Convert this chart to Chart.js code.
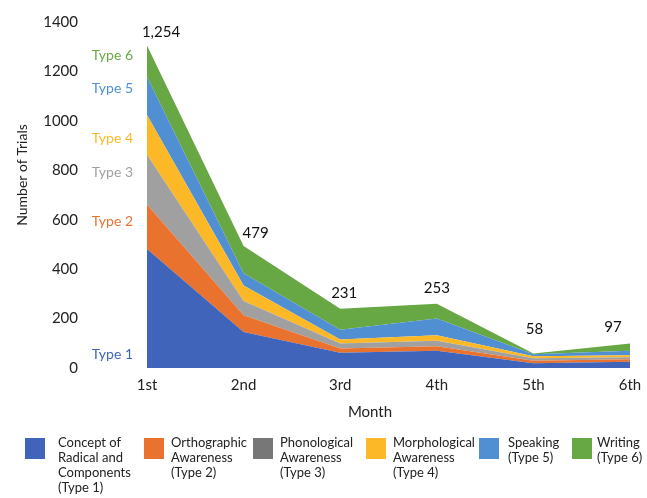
<!DOCTYPE html>
<html>
<head>
<meta charset="utf-8">
<script src="https://cdn.jsdelivr.net/npm/chart.js@4.4.0/dist/chart.umd.min.js"></script>
<style>
  body { margin: 0; background: #fff; font-family: Lato, "Open Sans", sans-serif; }
  #wrap { position: relative; width: 647px; height: 498px; }
  #chart { position: absolute; left: 0; top: 0; }
  .lg-box { position: absolute; top: 438px; width: 20px; height: 21px; }
  .lg-text { position: absolute; top: 435px; font-size: 13px; line-height: 15px; color: #222; }
</style>
</head>
<body>
<div id="wrap">
  <canvas id="chart" width="647" height="498"></canvas>
  <div id="legend"></div>
</div>
<script>
// month categories
const months = ['1st', '2nd', '3rd', '4th', '5th', '6th'];

// trials per type
const type1 = [481, 146, 62, 70, 19, 25];
const type2 = [181, 67, 17, 18, 10, 10];
const type3 = [201, 58, 20, 22, 10, 8];
const type4 = [161, 63, 16, 23, 9, 9];
const type5 = [154, 49, 40, 67, 8, 18];
const type6 = [127, 111, 85, 60, 3, 29];

// total labels printed above each month
const totalLabels = ['1,254', '479', '231', '253', '58', '97'];

// "Type n" labels on the left, at these y values
const typeLabelY = [56, 591, 792, 928, 1129, 1266];

const seriesNames = ['Type 1', 'Type 2', 'Type 3', 'Type 4', 'Type 5', 'Type 6'];
const legendNames = [
    'Concept of<br>Radical and<br>Components<br>(Type 1)',
    'Orthographic<br>Awareness<br>(Type 2)',
    'Phonological<br>Awareness<br>(Type 3)',
    'Morphological<br>Awareness<br>(Type 4)',
    'Speaking<br>(Type 5)',
    'Writing<br>(Type 6)'
];
const colors = ['#3f64b9', '#e9722f', '#a0a0a0', '#fdb827', '#4f8fd2', '#67a844'];
const labelColors = ['#3f64b9', '#e9722f', '#a0a0a0', '#fdb827', '#4f8fd2', '#67a844'];
const legendColors = ['#3f64b9', '#e9722f', '#777777', '#fdb827', '#4f8fd2', '#67a844'];

const allSeries = [type1, type2, type3, type4, type5, type6];

// custom text: type labels, totals, axis titles
const textPlugin = {
    id: 'texts',
    afterDraw(chart) {
        const ctx = chart.ctx;
        const y = chart.scales.y;
        ctx.save();
        ctx.textBaseline = 'middle';

        // type labels
        ctx.font = '14px Lato';
        ctx.textAlign = 'right';
        seriesNames.forEach((name, i) => {
            ctx.fillStyle = labelColors[i];
            ctx.fillText(name, 133, y.getPixelForValue(typeLabelY[i]));
        });

        // totals
        const top = chart.getDatasetMeta(5).data;
        const dx = [14, 12, 4, 0, 1, -17];
        const dy = [13, 13, 16, 16, 24, 16];
        ctx.font = '15px Lato';
        ctx.textAlign = 'center';
        ctx.fillStyle = '#111';
        totalLabels.forEach((t, i) => {
            ctx.fillText(t, top[i].x + dx[i], top[i].y - dy[i]);
        });

        // axis titles
        ctx.font = '15px Lato';
        ctx.fillStyle = '#222';
        ctx.fillText('Month', 370, 412);
        ctx.translate(22, 175);
        ctx.rotate(-Math.PI / 2);
        ctx.font = '14px Lato';
        ctx.fillText('Number of Trials', 0, 0);
        ctx.restore();
    }
};

const ctx = document.getElementById('chart').getContext('2d');
new Chart(ctx, {
    type: 'line',
    data: {
        labels: months,
        datasets: allSeries.map((d, i) => ({
            label: seriesNames[i],
            data: d,
            backgroundColor: colors[i],
            borderColor: colors[i],
            borderWidth: 0,
            pointRadius: 0,
            fill: i === 0 ? 'origin' : '-1',
            tension: 0
        }))
    },
    options: {
        responsive: false,
        animation: false,
        layout: { padding: { top: 22, right: 17, left: 0, bottom: 96 } },
        plugins: {
            legend: { display: false },
            tooltip: { enabled: false }
        },
        scales: {
            x: {
                offset: false,
                grid: { display: false, drawTicks: false },
                border: { display: false },
                ticks: { color: '#222', font: { family: 'Lato', size: 15 }, padding: 8, maxRotation: 0 },
                afterFit(scale) { scale.paddingRight = 0; }
            },
            y: {
                stacked: true,
                min: 0,
                max: 1400,
                grid: { display: false, drawTicks: false },
                border: { display: false },
                ticks: {
                    stepSize: 200,
                    color: '#222',
                    font: { family: 'Lato', size: 15 },
                    padding: 69,
                    callback: v => String(v)
                },
                afterFit(scale) {
                    scale.width = 147;
                    // the wide tick padding would otherwise push the plot down
                    scale.paddingTop = 0;
                    scale.paddingBottom = 0;
                }
            }
        }
    },
    plugins: [textPlugin]
});

// legend in html, labels wrap over several lines
const boxLeft = [25, 144, 253, 366, 479, 572];
const textLeft = [58, 171, 280, 393, 508, 597];
const legend = document.getElementById('legend');
legendNames.forEach((name, i) => {
    const b = document.createElement('div');
    b.className = 'lg-box';
    b.style.left = boxLeft[i] + 'px';
    b.style.background = legendColors[i];
    legend.appendChild(b);
    const t = document.createElement('div');
    t.className = 'lg-text';
    t.style.left = textLeft[i] + 'px';
    t.innerHTML = name;
    legend.appendChild(t);
});
</script>
</body>
</html>
